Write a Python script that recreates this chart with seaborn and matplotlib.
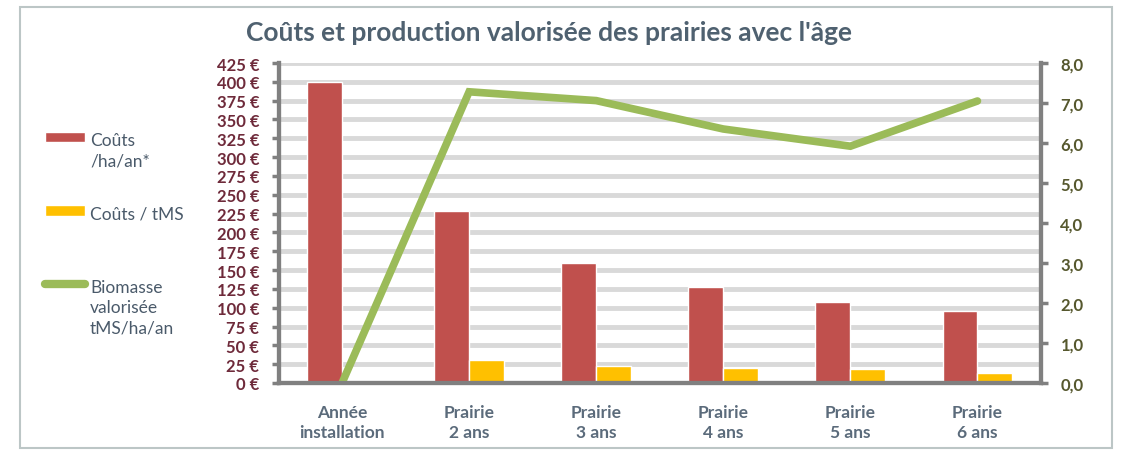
import numpy as np
import pandas as pd
import matplotlib
matplotlib.use("Agg")
import matplotlib.pyplot as plt
import matplotlib.patches as mpatches
from matplotlib.lines import Line2D
import seaborn as sns

# ---- data ----
categories = ["Année\ninstallation", "Prairie\n2 ans", "Prairie\n3 ans",
              "Prairie\n4 ans", "Prairie\n5 ans", "Prairie\n6 ans"]
cout_ha_an = [400, 229, 160, 128, 108, 95]
cout_tms = [0, 30, 23, 20, 19, 13]
biomasse = [0.0, 7.28, 7.06, 6.35, 5.92, 7.05]
series_names = ["Coûts\n/ha/an*", "Coûts / tMS"]
line_name = "Biomasse\nvalorisée\ntMS/ha/an"
left_ticks = list(range(0, 426, 25))
right_ticks = [0, 1, 2, 3, 4, 5, 6, 7, 8]
title = "Coûts et production valorisée des prairies avec l'âge"

df = pd.DataFrame({
    "cat": categories * 2,
    "val": cout_ha_an + cout_tms,
    "serie": [series_names[0]] * len(categories) + [series_names[1]] * len(categories),
})

sns.set_theme(style="white")
plt.rcParams["font.family"] = ["Lato", "DejaVu Sans"]

RED = "#C0504D"
YEL = "#FFC000"
GRN = "#9BBB59"
GRID = "#D9D9D9"
AXC = "#808080"

fig = plt.figure(figsize=(11.23, 4.52), dpi=100)
ax = fig.add_axes([278.5 / 1123, 1 - 384 / 452, (1041 - 278.5) / 1123, (384 - 64) / 452])

sns.barplot(data=df, x="cat", y="val", hue="serie", order=categories,
            hue_order=series_names, palette=[RED, YEL], width=0.55,
            saturation=1, ax=ax, legend=True)
handles, labels = ax.get_legend_handles_labels()
ax.get_legend().remove()

ax.set_ylim(0, 425)
ax.set_xlim(-0.5, len(categories) - 0.5)
ax.set_yticks(left_ticks)
ax.set_yticklabels([f"{v} €" for v in left_ticks], color="#6E2A3A",
                   fontsize=12, fontweight="bold")
ax.set_axisbelow(True)
for v in left_ticks:
    ax.axhline(v, color=GRID, lw=3.5, zorder=0)
ax.set_xlabel("")
ax.set_ylabel("")
ax.set_xticks(range(len(categories)))
ax.set_xticklabels(categories, color="#5B6B7B", fontsize=12.5, fontweight="bold",
                   linespacing=1.3)
ax.set_xticks(np.arange(0.5, len(categories) - 0.5, 1), minor=True)
ax.tick_params(axis="x", which="major", length=0, pad=15)
ax.tick_params(axis="x", which="minor", length=5, width=2.5, color=AXC, direction="out")
ax.tick_params(axis="y", length=5, width=2.5, color=AXC, direction="out", pad=9, left=True)

ax.spines["top"].set_visible(False)
for s in ["left", "right", "bottom"]:
    ax.spines[s].set_color(AXC)
    ax.spines[s].set_linewidth(3)

ax2 = ax.twinx()
sns.lineplot(x=np.arange(len(categories)), y=biomasse, ax=ax2, color=GRN, lw=5.5,
             solid_joinstyle="miter")
ax2.set_ylim(0, 8)
ax2.set_yticks(right_ticks)
ax2.set_yticklabels([f"{v:.1f}".replace(".", ",") for v in right_ticks],
                    color="#56582E", fontsize=12, fontweight="bold")
ax2.tick_params(axis="y", length=5, width=2.5, color=AXC, direction="out", pad=9, right=True)
ax2.spines["top"].set_visible(False)
for s in ["left", "right", "bottom"]:
    ax2.spines[s].set_color(AXC)
    ax2.spines[s].set_linewidth(3)
ax2.grid(False)

handles = list(handles) + [Line2D([0], [0], color=GRN, lw=6, solid_capstyle="round")]
labels = [series_names[0], series_names[1] + "\n ", line_name]
leg = fig.legend(handles, labels, loc="upper left",
                 bbox_to_anchor=(45 / 1123, 1 - 133 / 452),
                 frameon=False, fontsize=12.5, labelcolor="#4A5A6A", handlelength=2.3,
                 handleheight=0.55, handletextpad=0.3, labelspacing=2.12,
                 borderaxespad=0, borderpad=0)
for t in leg.get_texts():
    t.set_linespacing(1.35)
try:
    for col in leg._legend_handle_box.get_children():
        for row in col.get_children():
            row.align = "top"
except Exception:
    pass

fig.text(549 / 1123, 1 - 33 / 452, title, ha="center", va="center", fontsize=19,
         fontweight="bold", color="#4F6170")

frame = mpatches.Rectangle((20 / 1123, 1 - 449 / 452), (1112 - 20) / 1123, (449 - 8) / 452,
                           transform=fig.transFigure, fill=False, edgecolor="#BCC6C6", lw=1.5)
fig.add_artist(frame)

fig.savefig("out.png", dpi=100)
